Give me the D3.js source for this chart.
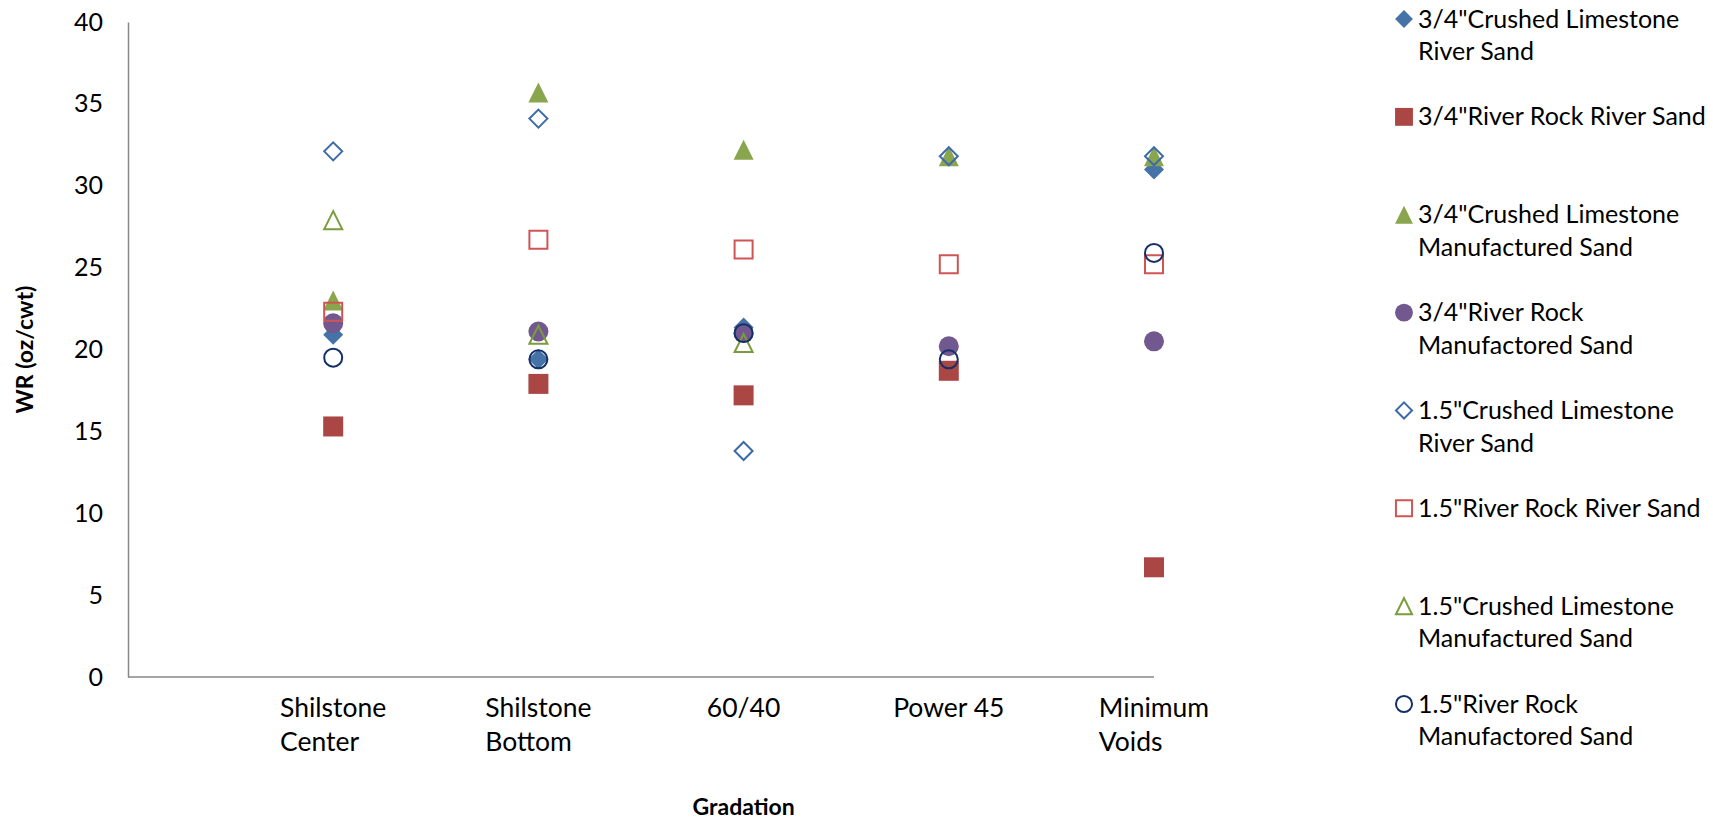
<!DOCTYPE html>
<html>
<head>
<meta charset="utf-8">
<script src="https://cdn.jsdelivr.net/npm/d3@7"></script>
<style>
  html, body { margin: 0; padding: 0; background: #ffffff; }
  svg { display: block; }
  text { font-family: Lato, "Open Sans", sans-serif; fill: #000; }
</style>
</head>
<body>
<svg id="chart" width="1713" height="824"></svg>
<script>
// ---------- data ----------
const categories = ["Shilstone\nCenter", "Shilstone\nBottom", "60/40", "Power 45", "Minimum\nVoids"];
const yTicks = [0, 5, 10, 15, 20, 25, 30, 35, 40];

const seriesNames = [
  '3/4"Crushed Limestone\nRiver Sand',
  '3/4"River Rock River Sand',
  '3/4"Crushed Limestone\nManufactured Sand',
  '3/4"River Rock\nManufactored Sand',
  '1.5"Crushed Limestone\nRiver Sand',
  '1.5"River Rock River Sand',
  '1.5"Crushed Limestone\nManufactured Sand',
  '1.5"River Rock\nManufactored Sand'
];
const s1 = [20.9, 19.4, 21.35, null, 31.0];   // 3/4" CL River Sand
const s2 = [15.3, 17.9, 17.2, 18.7, 6.7];     // 3/4" RR River Sand
const s3 = [23.0, 35.7, 32.2, 31.8, 31.8];    // 3/4" CL Manufactured Sand
const s4 = [21.6, 21.1, 21.0, 20.2, 20.5];    // 3/4" RR Manufactored Sand
const s5 = [32.1, 34.1, 13.8, 31.8, 31.8];    // 1.5" CL River Sand
const s6 = [22.3, 26.7, 26.1, 25.2, 25.2];    // 1.5" RR River Sand
const s7 = [27.9, 20.9, 20.4, null, null];    // 1.5" CL Manufactured Sand
const s8 = [19.5, 19.4, 21.0, 19.4, 25.9];    // 1.5" RR Manufactored Sand
const seriesValues = [s1, s2, s3, s4, s5, s6, s7, s8];

const xTitle = "Gradation";
const yTitle = "WR (oz/cwt)";

// ---------- styles ----------
const diamond = { draw(ctx, size) { const r = Math.sqrt(size / 2);
  ctx.moveTo(0, -r); ctx.lineTo(r, 0); ctx.lineTo(0, r); ctx.lineTo(-r, 0); ctx.closePath(); } };
const triangle = { draw(ctx, size) { const w = Math.sqrt(2 * size);
  ctx.moveTo(0, -w / 2); ctx.lineTo(w / 2, w / 2); ctx.lineTo(-w / 2, w / 2); ctx.closePath(); } };
const styles = [
  { type: diamond,          fill: "#4572A7", stroke: "none", filledSize: 200 },
  { type: d3.symbolSquare,  fill: "#AA4643", stroke: "none", filledSize: 400 },
  { type: triangle,         fill: "#89A54E", stroke: "none", filledSize: 200 },
  { type: d3.symbolCircle,  fill: "#71588F", stroke: "none", filledSize: 314 },
  { type: diamond,          fill: "none", stroke: "#3D6AA8", filledSize: 162 },
  { type: d3.symbolSquare,  fill: "none", stroke: "#CF5555", filledSize: 324 },
  { type: triangle,         fill: "none", stroke: "#7A9C3C", filledSize: 162 },
  { type: d3.symbolCircle,  fill: "none", stroke: "#14306A", filledSize: 254 }
];

// ---------- layout ----------
const svg = d3.select("#chart");
const plotLeft = 128, plotRight = 1154, plotTop = 22, plotBottom = 677;

const x = d3.scaleLinear().domain([0, categories.length]).range([plotLeft, plotRight]);
const y = d3.scaleLinear().domain([0, 40]).range([plotBottom, plotTop]);

// Y axis
const yAxis = svg.append("g").attr("transform", `translate(${plotLeft},0)`)
  .call(d3.axisLeft(y).tickValues(yTicks).tickSize(0).tickPadding(25));
yAxis.select(".domain").attr("stroke", "#878787").attr("stroke-width", 1.5);
yAxis.selectAll("text").style("font-family", "Lato, sans-serif").style("font-size", "25px").attr("fill", "#000");

// X axis line (from 0 to last category, as in reference)
svg.append("line")
  .attr("x1", x(0)).attr("x2", x(categories.length))
  .attr("y1", y(0)).attr("y2", y(0))
  .attr("stroke", "#878787").attr("stroke-width", 1.5);

// Category labels (block centered, lines left-aligned)
categories.forEach((c, i) => {
  const lines = c.split("\n");
  const t = svg.append("text")
    .attr("y", y(0) + 40)
    .style("font-size", "26.5px");
  lines.forEach((ln, k) => {
    t.append("tspan").attr("x", 0).attr("dy", k === 0 ? 0 : 34).text(ln);
  });
  const w = t.node().getBBox().width;
  t.attr("transform", `translate(${x(i + 1) - w / 2},0)`);
});

// Axis titles
svg.append("text")
  .attr("transform", `translate(33,${(plotTop + plotBottom) / 2}) rotate(-90)`)
  .attr("text-anchor", "middle")
  .style("font-size", "23px").style("font-weight", "bold")
  .text(yTitle);
svg.append("text")
  .attr("x", x(3)).attr("y", 815)
  .attr("text-anchor", "middle")
  .style("font-size", "23px").style("font-weight", "bold")
  .text(xTitle);

// Markers
seriesValues.forEach((vals, si) => {
  const st = styles[si];
  const sym = d3.symbol().type(st.type).size(st.filledSize);
  svg.append("g").selectAll("path")
    .data(vals.map((v, i) => ({ v, i })).filter(d => d.v !== null))
    .join("path")
    .attr("d", sym)
    .attr("transform", d => `translate(${x(d.i + 1)},${y(d.v)})`)
    .attr("fill", st.fill)
    .attr("stroke", st.stroke)
    .attr("stroke-width", st.stroke === "none" ? 0 : 2);
});

// Legend
const ly = d3.scaleLinear().domain([0, seriesNames.length - 1]).range([19, 704]);
const legend = svg.append("g");
seriesNames.forEach((name, si) => {
  const st = styles[si];
  const g = legend.append("g").attr("transform", `translate(1404,${ly(si)})`);
  g.append("path")
    .attr("d", d3.symbol().type(st.type).size(st.filledSize * 0.8))
    .attr("fill", st.fill)
    .attr("stroke", st.stroke)
    .attr("stroke-width", st.stroke === "none" ? 0 : 2);
  const t = g.append("text").attr("x", 14).attr("y", 8.5).style("font-size", "25px");
  name.split("\n").forEach((ln, k) => {
    t.append("tspan").attr("x", 14).attr("dy", k === 0 ? 0 : 32.6).text(ln);
  });
});
</script>
</body>
</html>
